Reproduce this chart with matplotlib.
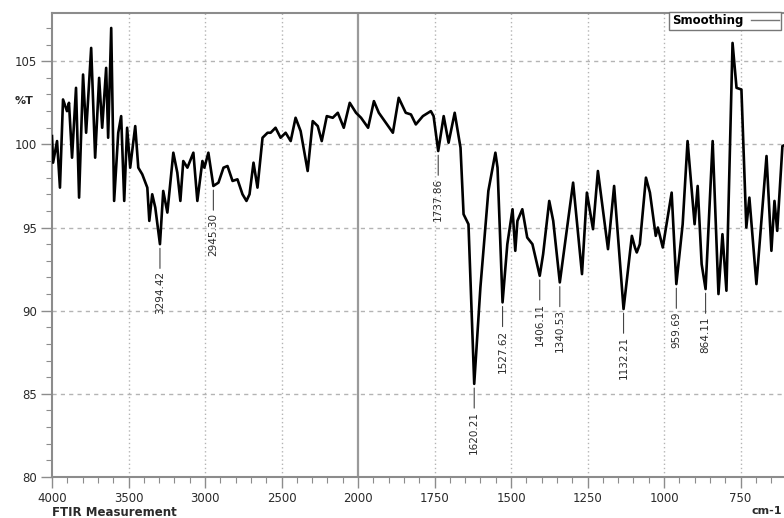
import numpy as np
import matplotlib

matplotlib.use("Agg")
import matplotlib.pyplot as plt
from matplotlib.lines import Line2D
from matplotlib.ticker import FixedFormatter, FixedLocator, NullFormatter

# spectrum, read as (wavenumber cm-1, %T)
wavenumber = [
    4000, 3993, 3967, 3948, 3928, 3902, 3889, 3869, 3843, 3823, 3797, 3777,
    3744, 3718, 3692, 3672, 3646, 3633, 3613, 3594, 3567, 3548, 3528, 3509,
    3489, 3456, 3436, 3410, 3377, 3364, 3345, 3325, 3294.42, 3273, 3246, 3207,
    3181, 3161, 3142, 3115, 3076, 3050, 3017, 3004, 2978, 2945.30, 2912, 2879,
    2853, 2820, 2788, 2755, 2729, 2709, 2683, 2657, 2624, 2591, 2571, 2539,
    2506, 2473, 2440, 2408, 2375, 2329, 2296, 2263, 2237, 2204, 2165, 2132,
    2093, 2054, 2013, 1990, 1967, 1948, 1932, 1909, 1886, 1867, 1844, 1827,
    1811, 1788, 1762, 1753, 1737.86, 1720, 1704, 1684, 1665, 1655, 1639,
    1620.21, 1600, 1574, 1551, 1544, 1527.62, 1512, 1495, 1486, 1479, 1463,
    1447, 1430, 1406.11, 1395, 1375, 1362, 1340.53, 1297, 1268, 1252, 1232,
    1216, 1183, 1163, 1132.21, 1105, 1095, 1089, 1079, 1059, 1046, 1027, 1020,
    1004, 975, 959.69, 939, 923, 900, 890, 877, 864.11, 841, 822, 809, 796,
    776, 763, 747, 731, 721, 698, 665, 649, 639, 630, 613, 600,
]
transmittance = [
    100.5, 98.9, 100.2, 97.4, 102.7, 102.0, 102.5, 99.2, 103.4, 96.8, 104.2, 100.7,
    105.8, 99.2, 104.0, 101.0, 104.6, 100.4, 107.0, 96.6, 100.7, 101.7, 96.6, 101.0,
    98.6, 101.1, 98.6, 98.2, 97.4, 95.4, 97.0, 96.2, 94.0, 97.2, 95.9, 99.5,
    98.3, 96.6, 99.0, 98.6, 99.5, 96.6, 99.0, 98.6, 99.5, 97.5, 97.7, 98.6,
    98.7, 97.8, 97.9, 97.0, 96.6, 97.0, 98.9, 97.4, 100.4, 100.7, 100.7, 101.0,
    100.4, 100.7, 100.2, 101.6, 100.8, 98.4, 101.4, 101.1, 100.2, 101.7, 101.6, 101.9,
    101.0, 102.5, 101.9, 101.6, 101.0, 102.6, 101.9, 101.3, 100.7, 102.8, 101.9, 101.8,
    101.2, 101.7, 102.0, 101.7, 99.6, 101.7, 100.1, 101.9, 99.8, 95.8, 95.2,
    85.6, 91.4, 97.2, 99.5, 98.6, 90.5, 94.0, 96.1, 93.6, 95.4, 96.1,
    94.4, 94.0, 92.1, 93.4, 96.6, 95.4, 91.7, 97.7, 92.2, 97.1, 94.9,
    98.4, 93.7, 97.5, 90.1, 94.5, 93.8, 93.5, 94.0, 98.0, 97.1, 94.5, 95.0,
    93.8, 97.1, 91.6, 95.2, 100.2, 95.2, 97.5, 92.8, 91.3, 100.2, 91.0, 94.6, 91.2,
    106.1, 103.4, 103.3, 95.0, 96.8, 91.6, 99.3, 93.6, 96.6, 94.8, 99.9, 100.0,
]

# labelled minima
peak_wn = [3294.42, 2945.30, 1737.86, 1620.21, 1527.62, 1406.11, 1340.53,
           1132.21, 959.69, 864.11]

y_ticks = [80, 85, 90, 95, 100, 105]
x_ticks = [4000, 3500, 3000, 2500, 2000, 1750, 1500, 1250, 1000, 750]

wn = np.array(wavenumber)
tr = np.array(transmittance)
peak_t = np.interp(peak_wn, wn[::-1], tr[::-1])


# below 2000 cm-1 the axis is stretched by 2x
def fwd(x):
    x = np.asarray(x, dtype=float)
    return np.where(x >= 2000, x, 2 * x - 2000)


def inv(u):
    u = np.asarray(u, dtype=float)
    return np.where(u >= 2000, u, (u + 2000) / 2)


plt.rcParams["font.family"] = ["DejaVu Sans"]
grey = "#8c8c8c"
text_c = "#2a2a2a"

fig = plt.figure(figsize=(7.84, 5.18), dpi=100)
ax = fig.add_axes([52 / 784, 1 - 477 / 518, 765 / 784, 464 / 518])
ax.set_xscale("function", functions=(fwd, inv))
ax.set_xlim(4000, 500)
ax.set_ylim(80, 107.9)

# grid
for v in y_ticks[1:]:
    ax.axhline(v, color="#b4b4b4", lw=1.0, ls=(0, (3, 3)), zorder=1)
for v in x_ticks[1:]:
    if v == 2000:
        ax.axvline(v, color="#9a9a9a", lw=1.6, zorder=1)
    else:
        ax.axvline(v, color="#b4b4b4", lw=1.0, ls=(0, (1, 2)), zorder=1)

ax.plot(wn, tr, color="black", lw=1.9, solid_joinstyle="round", zorder=3)

for w, t in zip(peak_wn, peak_t):
    ax.annotate(f"{w:.2f}", xy=(w, t), xytext=(0, -27), textcoords="offset pixels",
                rotation=90, ha="center", va="top", fontsize=7.5, color=text_c,
                arrowprops=dict(arrowstyle="-", color="#444444", lw=0.8,
                                shrinkA=0, shrinkB=3),
                zorder=4)

# axes decoration
ax.xaxis.set_major_locator(FixedLocator(x_ticks))
ax.xaxis.set_major_formatter(FixedFormatter([str(v) for v in x_ticks]))
minor_x = [v for v in list(range(2100, 4000, 100)) + list(range(550, 2000, 50))
           if v not in x_ticks]
ax.xaxis.set_minor_locator(FixedLocator(minor_x))
ax.xaxis.set_minor_formatter(NullFormatter())
ax.yaxis.set_major_locator(FixedLocator(y_ticks))
ax.yaxis.set_minor_locator(FixedLocator([v for v in range(80, 108) if v not in y_ticks]))

ax.tick_params(axis="both", which="major", length=8, width=1.0, color=grey,
               labelsize=8.5, labelcolor=text_c, pad=3)
ax.tick_params(axis="both", which="minor", length=4, width=0.8, color=grey)

for side in ("left", "bottom", "top"):
    ax.spines[side].set_color(grey)
    ax.spines[side].set_linewidth(1.5)
ax.spines["right"].set_visible(False)

ax.annotate("%T", xy=(0, 102.6), xycoords=("axes fraction", "data"),
            xytext=(-37, 0), textcoords="offset pixels", ha="left", va="center",
            fontsize=8, fontweight="bold", color=text_c)

fig.text(52 / 784, 1 - 512 / 518, "FTIR Measurement", fontsize=8.5,
         fontweight="bold", color=text_c, ha="left", va="center")
fig.text(782 / 784, 1 - 511 / 518, "cm-1", fontsize=8, fontweight="bold",
         color=text_c, ha="right", va="center")

handle = Line2D([], [], color="#777777", lw=1.0)
fig.legend([handle], ["Smoothing"], loc="upper right",
           bbox_to_anchor=(781 / 784, 1 - 12 / 518), frameon=True, fancybox=False,
           edgecolor="#777777", framealpha=1, markerfirst=False,
           borderpad=0.2, handlelength=2.3, handletextpad=0.7, borderaxespad=0,
           prop={"weight": "bold", "size": 8.5})

fig.savefig("out.png", dpi=100)
